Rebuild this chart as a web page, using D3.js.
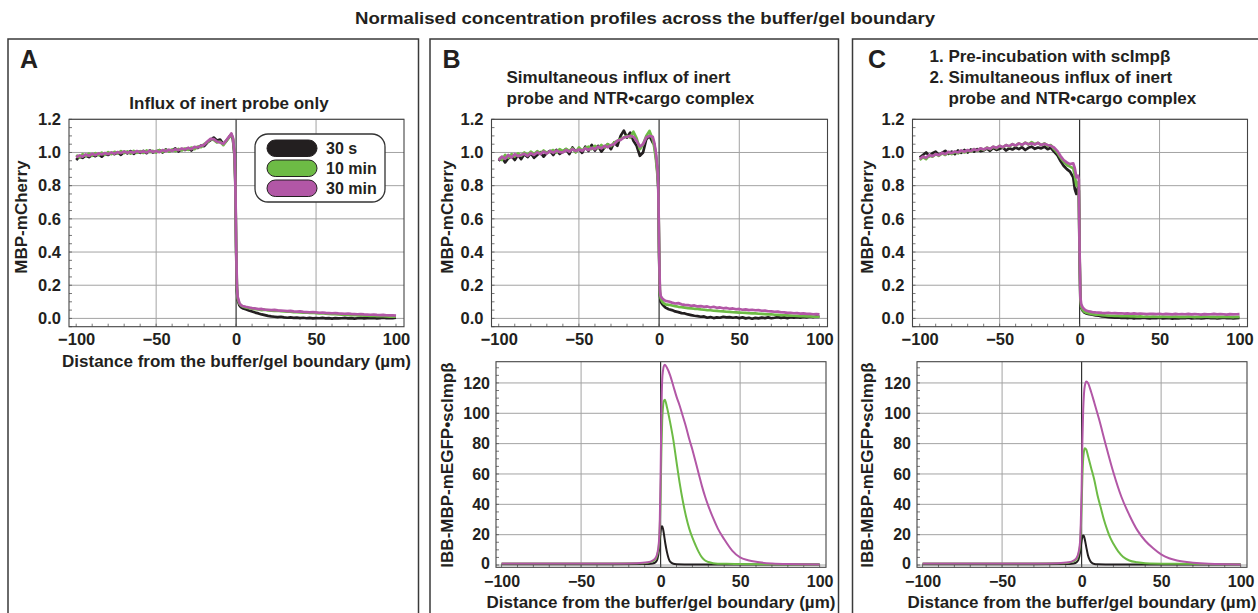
<!DOCTYPE html>
<html>
<head>
<meta charset="utf-8">
<script src="https://cdn.jsdelivr.net/npm/d3@7"></script>
<style>
  body { margin: 0; background: #fff; }
  svg { display: block; font-family: "Liberation Sans", Arial, Helvetica, sans-serif; font-weight: bold; }
</style>
</head>
<body>
<div id="chart"></div>
<script>
// ---- data ----
var seriesNames = ['30 s', '10 min', '30 min']
var colors = ['#231f20', '#6dbb45', '#b257a6']

var xTicks = [-100, -50, 0, 50, 100]
var profTicks = [0, 0.2, 0.4, 0.6, 0.8, 1.0, 1.2]
var impTicks = [0, 20, 40, 60, 80, 100, 120]

// distance grid of the MBP-mCherry profiles (µm)
var profX = [-100, -98, -96, -94, -92, -90, -88, -86, -84, -82,
    -80, -78, -76, -74, -72, -70, -68, -66, -64, -62,
    -60, -58, -56, -54, -52, -50, -48, -46, -44, -42,
    -40, -38, -36, -34, -32, -30, -28, -26, -24, -22,
    -20, -18, -16, -14, -12, -10, -8, -6, -4,
    -3, -2, -1, -0.5, 0, 0.5, 1, 2, 3, 4,
    6, 8, 10, 12, 14, 16, 18, 20, 22, 24,
    26, 28, 30, 32, 34, 36, 38, 40, 42, 44,
    46, 48, 50, 52, 54, 56, 58, 60, 62, 64,
    66, 68, 70, 72, 74, 76, 78, 80, 82, 84,
    86, 88, 90, 92, 94, 96, 98, 100]

// panel A, MBP-mCherry
var aBlack = [0.955, 0.975, 0.968, 0.982, 0.972, 0.985, 0.978, 0.99, 0.975, 0.992,
    0.985, 0.998, 0.99, 1.0, 0.986, 1.004, 0.995, 1.008, 0.992, 1.006,
    0.998, 1.01, 0.996, 1.012, 1.0, 1.006, 1.014, 1.0, 1.018, 1.008,
    1.012, 1.024, 1.006, 1.02, 1.015, 1.026, 1.012, 1.03, 1.028, 1.042,
    1.038, 1.06, 1.074, 1.09, 1.072, 1.078, 1.05, 1.072, 1.098,
    1.108, 1.08, 0.98, 0.82, 0.42, 0.17, 0.11, 0.08, 0.068, 0.062,
    0.055, 0.048, 0.042, 0.035, 0.03, 0.024, 0.02, 0.015, 0.012, 0.01,
    0.008, 0.01, 0.006, 0.004, 0.006, 0.003, 0.005, 0.002, 0.004, 0.001,
    0.003, 0.0, 0.002, 0.001, 0.003, 0.0, 0.002, -0.001, 0.002, 0.0,
    0.001, 0.003, 0.0, 0.002, -0.001, 0.001, 0.003, 0.0, 0.002, 0.001,
    0.003, 0.0, 0.002, 0.004, 0.001, 0.003, 0.002, 0.004]
var aGreen = [0.985, 0.97, 0.99, 0.978, 0.993, 0.98, 0.996, 0.984, 0.999, 0.986,
    1.002, 0.99, 1.004, 0.994, 1.008, 0.996, 1.006, 0.993, 1.01, 0.998,
    1.008, 0.997, 1.012, 1.002, 1.01, 0.999, 1.014, 1.004, 1.016, 1.006,
    1.018, 1.008, 1.022, 1.012, 1.024, 1.016, 1.03, 1.02, 1.036, 1.032,
    1.05, 1.062, 1.08, 1.076, 1.06, 1.066, 1.044, 1.07, 1.095,
    1.11, 1.085, 0.99, 0.84, 0.45, 0.19, 0.12, 0.09, 0.078, 0.072,
    0.066, 0.062, 0.058, 0.056, 0.054, 0.05, 0.052, 0.048, 0.047, 0.045,
    0.046, 0.043, 0.042, 0.04, 0.041, 0.038, 0.037, 0.036, 0.035, 0.036,
    0.033, 0.034, 0.031, 0.03, 0.031, 0.028, 0.027, 0.026, 0.026, 0.024,
    0.023, 0.024, 0.021, 0.02, 0.021, 0.018, 0.019, 0.017, 0.016, 0.015,
    0.016, 0.014, 0.013, 0.014, 0.012, 0.011, 0.012, 0.01]
var aMagenta = [0.97, 0.982, 0.975, 0.988, 0.98, 0.992, 0.984, 0.995, 0.988, 0.997,
    0.99, 1.0, 0.993, 1.003, 0.996, 1.006, 0.998, 1.004, 0.999, 1.009,
    1.002, 1.007, 1.0, 1.011, 1.004, 1.009, 1.002, 1.014, 1.008, 1.017,
    1.01, 1.02, 1.014, 1.024, 1.018, 1.028, 1.02, 1.034, 1.03, 1.04,
    1.046, 1.066, 1.082, 1.08, 1.066, 1.06, 1.052, 1.075, 1.1,
    1.115, 1.09, 1.0, 0.85, 0.47, 0.2, 0.13, 0.095, 0.08, 0.075,
    0.07, 0.066, 0.062, 0.06, 0.056, 0.057, 0.053, 0.052, 0.05, 0.051,
    0.048, 0.047, 0.046, 0.044, 0.045, 0.042, 0.041, 0.042, 0.039, 0.038,
    0.037, 0.038, 0.036, 0.034, 0.035, 0.033, 0.032, 0.031, 0.032, 0.03,
    0.029, 0.028, 0.029, 0.027, 0.026, 0.025, 0.026, 0.024, 0.023, 0.022,
    0.023, 0.021, 0.02, 0.021, 0.019, 0.018, 0.019, 0.017]

// panel B, MBP-mCherry
var bBlack = [0.95, 0.972, 0.94, 0.965, 0.978, 0.955, 0.985, 0.96, 0.99, 0.972,
    0.995, 0.968, 0.985, 1.002, 0.975, 0.998, 1.01, 0.985, 1.015, 0.992,
    1.005, 1.02, 0.99, 1.03, 1.005, 1.022, 0.998, 1.035, 1.01, 1.045,
    1.012, 1.04, 1.005, 1.03, 1.05, 1.02, 1.06, 1.04, 1.1, 1.132,
    1.09, 1.12, 1.07, 1.04, 0.98, 1.0, 1.08, 1.1, 1.06,
    1.05, 0.98, 0.88, 0.78, 0.38, 0.14, 0.1, 0.085, 0.075, 0.065,
    0.055, 0.05, 0.042, 0.038, 0.032, 0.03, 0.024, 0.02, 0.016, 0.014,
    0.01, 0.012, 0.004, 0.008, 0.002, 0.006, 0.004, 0.01, 0.006, 0.008,
    0.004, 0.007, 0.002, 0.006, 0.0, 0.004, -0.002, 0.003, 0.0, 0.005,
    0.002, 0.006, 0.001, 0.004, 0.008, 0.003, 0.006, 0.002, 0.007, 0.004,
    0.008, 0.005, 0.009, 0.006, 0.01, 0.007, 0.011, 0.009]
var bGreen = [0.97, 0.955, 0.985, 0.968, 0.99, 0.975, 0.995, 0.98, 1.0, 0.985,
    1.005, 0.99, 1.008, 0.995, 1.012, 0.998, 1.005, 1.015, 1.0, 1.02,
    1.008, 1.022, 1.01, 1.025, 1.0, 1.03, 1.012, 1.028, 1.035, 1.02,
    1.04, 1.025, 1.045, 1.03, 1.05, 1.038, 1.06, 1.07, 1.082, 1.09,
    1.1, 1.09, 1.125, 1.085, 1.02, 1.05, 1.1, 1.13, 1.08,
    1.03, 0.96, 0.86, 0.8, 0.4, 0.15, 0.12, 0.1, 0.09, 0.085,
    0.082, 0.078, 0.074, 0.07, 0.068, 0.065, 0.062, 0.06, 0.058, 0.057,
    0.054, 0.052, 0.05, 0.049, 0.046, 0.045, 0.043, 0.042, 0.04, 0.039,
    0.037, 0.036, 0.035, 0.034, 0.033, 0.031, 0.03, 0.03, 0.028, 0.027,
    0.026, 0.024, 0.025, 0.022, 0.021, 0.02, 0.019, 0.018, 0.017, 0.016,
    0.015, 0.014, 0.013, 0.012, 0.012, 0.011, 0.01, 0.01]
var bMagenta = [0.955, 0.975, 0.962, 0.985, 0.97, 0.99, 0.978, 0.985, 0.992, 0.98,
    0.996, 0.985, 1.0, 0.99, 1.005, 0.994, 1.008, 0.998, 1.012, 1.002,
    1.0, 1.015, 1.005, 1.02, 1.008, 1.018, 1.01, 1.025, 1.015, 1.028,
    1.02, 1.035, 1.025, 1.04, 1.032, 1.045, 1.05, 1.072, 1.075, 1.09,
    1.095, 1.1, 1.095, 1.07, 1.035, 1.05, 1.09, 1.1, 1.095,
    1.06, 1.0, 0.9, 0.8, 0.42, 0.17, 0.135, 0.12, 0.112, 0.106,
    0.102, 0.095, 0.09, 0.092, 0.085, 0.082, 0.08, 0.076, 0.078, 0.072,
    0.074, 0.07, 0.072, 0.066, 0.07, 0.064, 0.066, 0.061, 0.063, 0.058,
    0.06, 0.055, 0.057, 0.052, 0.054, 0.05, 0.052, 0.049, 0.05, 0.046,
    0.047, 0.043, 0.042, 0.04, 0.041, 0.037, 0.036, 0.033, 0.034, 0.031,
    0.032, 0.029, 0.03, 0.027, 0.028, 0.025, 0.026, 0.024]

// panel C, MBP-mCherry
var cBlack = [0.97, 0.985, 1.0, 0.978, 0.995, 1.005, 0.985, 0.998, 1.01, 0.992,
    1.005, 0.99, 1.012, 0.998, 1.015, 1.0, 1.018, 1.005, 1.02, 1.008,
    1.012, 1.025, 1.01, 1.028, 1.015, 1.022, 1.03, 1.012, 1.025, 1.018,
    1.03, 1.02, 1.032, 1.015, 1.028, 1.035, 1.022, 1.03, 1.025, 1.035,
    1.02, 1.028, 1.005, 0.985, 0.95, 0.92, 0.9, 0.885, 0.85,
    0.78, 0.75, 0.79, 0.77, 0.36, 0.1, 0.065, 0.045, 0.035, 0.03,
    0.025, 0.022, 0.018, 0.016, 0.012, 0.01, 0.008, 0.006, 0.004, 0.006,
    0.003, 0.005, 0.002, 0.004, 0.0, 0.003, 0.001, 0.004, 0.002, 0.0,
    0.003, 0.001, 0.004, 0.0, 0.002, 0.003, -0.001, 0.002, 0.0, 0.003,
    0.001, 0.004, 0.0, 0.002, 0.003, 0.0, 0.002, 0.004, 0.001, 0.003,
    0.0, 0.002, 0.004, 0.001, 0.003, 0.0, 0.002, 0.003]
var cGreen = [0.955, 0.972, 0.96, 0.982, 0.975, 0.99, 0.98, 0.995, 0.985, 1.0,
    0.99, 1.004, 0.995, 1.01, 1.0, 1.012, 1.005, 1.02, 1.01, 1.024,
    1.015, 1.03, 1.02, 1.034, 1.025, 1.04, 1.03, 1.045, 1.035, 1.05,
    1.04, 1.055, 1.045, 1.06, 1.048, 1.062, 1.05, 1.058, 1.045, 1.055,
    1.04, 1.045, 1.02, 1.0, 0.97, 0.945, 0.925, 0.915, 0.905,
    0.86, 0.8, 0.82, 0.8, 0.38, 0.11, 0.07, 0.05, 0.04, 0.035,
    0.03, 0.026, 0.023, 0.022, 0.02, 0.018, 0.017, 0.016, 0.015, 0.015,
    0.014, 0.013, 0.013, 0.012, 0.012, 0.011, 0.012, 0.01, 0.011, 0.01,
    0.011, 0.01, 0.009, 0.011, 0.01, 0.009, 0.01, 0.011, 0.009, 0.01,
    0.009, 0.011, 0.01, 0.008, 0.01, 0.009, 0.011, 0.01, 0.009, 0.01,
    0.008, 0.01, 0.009, 0.011, 0.009, 0.008, 0.01, 0.009]
var cMagenta = [0.962, 0.975, 0.968, 0.985, 0.978, 0.99, 0.984, 0.998, 0.99, 1.004,
    0.996, 1.006, 1.0, 1.012, 1.004, 1.015, 1.008, 1.02, 1.012, 1.025,
    1.018, 1.028, 1.022, 1.035, 1.028, 1.04, 1.032, 1.045, 1.038, 1.05,
    1.042, 1.055, 1.046, 1.058, 1.05, 1.055, 1.048, 1.058, 1.045, 1.052,
    1.045, 1.04, 1.03, 1.01, 0.98, 0.955, 0.94, 0.93, 0.935,
    0.905, 0.85, 0.86, 0.84, 0.4, 0.13, 0.085, 0.065, 0.055, 0.048,
    0.042, 0.038, 0.036, 0.035, 0.033, 0.032, 0.034, 0.031, 0.032, 0.03,
    0.031, 0.029, 0.03, 0.028, 0.03, 0.027, 0.029, 0.028, 0.026, 0.028,
    0.027, 0.026, 0.028, 0.025, 0.027, 0.026, 0.024, 0.027, 0.025, 0.026,
    0.025, 0.027, 0.024, 0.026, 0.025, 0.023, 0.026, 0.024, 0.025, 0.027,
    0.024, 0.026, 0.025, 0.023, 0.026, 0.024, 0.025, 0.026]

// panel B, IBB-MBP-mEGFP•scImpβ
var bImpBlackX = [-100, -30, -10, -5, -3, -2, -1, -0.5, 0, 0.5, 1, 1.5, 2, 3, 4, 5, 6, 8, 10, 15, 30, 100]
var bImpBlack = [0.5, 0.5, 0.6, 1, 2, 4, 10, 16, 22, 25, 25.5, 24, 21, 14, 8.5, 4.5, 2.2, 0.8, 0.5, 0.4, 0.4, 0.4]
var bImpGreenX = [-100, -60, -30, -15, -8, -5, -3, -2, -1, -0.5, 0, 0.5, 1, 1.5, 2, 2.7, 4, 6, 8, 10,
    12, 14, 16, 18, 20, 22, 24, 26, 28, 30, 33, 36, 40, 50, 70, 100]
var bImpGreen = [1, 1, 1, 1.1, 1.5, 2.5, 4, 7, 14, 25, 45, 75, 95, 104, 108, 109, 104, 94, 82.5, 68,
    54, 42, 32, 24, 18, 13, 8.5, 5, 3, 2, 1.2, 0.9, 0.8, 0.6, 0.5, 0.4]
var bImpMagentaX = [-100, -60, -30, -15, -8, -5, -3, -2, -1, -0.5, 0, 0.5, 1, 1.5, 2, 2.7, 4, 6, 8, 10,
    12, 14, 16, 18, 20, 22, 24, 26, 28, 30, 33, 36, 40, 45, 50, 55, 60, 70, 80, 100]
var bImpMagenta = [1, 1, 1, 1.2, 1.8, 3, 5, 8, 16, 30, 60, 100, 122, 128, 131, 132, 130, 125, 118, 111,
    105, 98, 91, 83, 76, 68, 60, 52, 45, 39, 31, 24, 17, 9.5, 5, 3.2, 2.1, 1, 0.6, 0.4]

// panel C, IBB-MBP-mEGFP•scImpβ
var cImpBlackX = [-100, -30, -10, -5, -3, -2, -1, -0.5, 0, 0.5, 1, 1.5, 2, 3, 4, 5, 6, 8, 10, 15, 30, 100]
var cImpBlack = [0.5, 0.5, 0.6, 1, 2, 3.5, 8, 12, 16, 18.5, 19.5, 19, 17, 11.5, 6.5, 3.5, 1.8, 0.7, 0.5, 0.4, 0.4, 0.4]
var cImpGreenX = [-100, -60, -30, -15, -8, -5, -3, -2, -1, -0.5, 0, 0.5, 1, 1.5, 2, 3, 4, 6, 8, 10,
    12, 14, 16, 18, 20, 23, 26, 30, 35, 40, 60, 100]
var cImpGreen = [1, 1, 1, 1.1, 1.5, 2.5, 4, 7, 13, 22, 38, 58, 70, 75, 77, 76, 72, 64, 56, 46,
    38, 30, 23.5, 18, 14, 9, 5.5, 3, 1.8, 1.2, 0.8, 0.5]
var cImpMagentaX = [-100, -60, -30, -15, -8, -5, -3, -2, -1, -0.5, 0, 0.5, 1, 1.5, 2, 3, 4, 6, 8, 11,
    15, 20, 25, 30, 35, 40, 45, 50, 55, 60, 70, 80, 100]
var cImpMagenta = [1, 1, 1, 1.2, 1.8, 3, 5, 8, 15, 28, 50, 82, 102, 113, 118, 121, 120, 114, 107, 96,
    80, 61, 45, 33, 23, 16, 11, 7, 4.5, 3, 1.5, 0.8, 0.4]

// ---- svg ----
var width = 1258,
    height = 613

var svg = d3.select('#chart')
    .append('svg')
    .attr('width', width)
    .attr('height', height)

svg.append('text')
    .attr('x', 645)
    .attr('y', 24)
    .attr('text-anchor', 'middle')
    .attr('font-size', 17)
    .attr('textLength', 580)
    .attr('lengthAdjust', 'spacingAndGlyphs')
    .attr('fill', '#231f20')
    .text('Normalised concentration profiles across the buffer/gel boundary')

// panel frames
var boxes = [[8, 410.5, 'A', 20], [430, 408.5, 'B', 442.5], [852.5, 420, 'C', 868]]
boxes.forEach(b => {
    svg.append('rect')
        .attr('x', b[0]).attr('y', 39)
        .attr('width', b[1]).attr('height', 600)
        .attr('fill', 'none')
        .attr('stroke', '#3a3a3a')
        .attr('stroke-width', 1.5)
    svg.append('text')
        .attr('x', b[3]).attr('y', 67.5)
        .attr('font-size', 25)
        .attr('fill', '#231f20')
        .text(b[2])
})

function drawPlot(p) {
    var x = d3.scaleLinear().domain(p.xDomain).range([p.left, p.right])
    var y = d3.scaleLinear().domain(p.yDomain).range([p.bottom, p.top])
    var g = svg.append('g')

    // grid
    g.selectAll('.gy')
        .data(p.yTicks)
        .enter()
        .append('line')
        .attr('class', 'gy')
        .attr('x1', p.left).attr('x2', p.right)
        .attr('y1', d => y(d)).attr('y2', d => y(d))
        .attr('stroke', '#a3a3a3')
        .attr('stroke-width', 1)
    g.selectAll('.gx')
        .data([-50, 50])
        .enter()
        .append('line')
        .attr('class', 'gx')
        .attr('x1', d => x(d)).attr('x2', d => x(d))
        .attr('y1', p.top).attr('y2', p.bottom)
        .attr('stroke', '#a3a3a3')
        .attr('stroke-width', 1)
    g.append('line')
        .attr('x1', x(0)).attr('x2', x(0))
        .attr('y1', p.top).attr('y2', p.bottom)
        .attr('stroke', '#333')
        .attr('stroke-width', 1.2)

    // minor ticks, inside
    g.selectAll('.my')
        .data(p.yMinor)
        .enter()
        .append('line')
        .attr('class', 'my')
        .attr('x1', p.left).attr('x2', p.left + 3)
        .attr('y1', d => y(d)).attr('y2', d => y(d))
        .attr('stroke', '#555')
        .attr('stroke-width', 0.8)
    g.selectAll('.mx')
        .data(d3.range(-100, 101, 10))
        .enter()
        .append('line')
        .attr('class', 'mx')
        .attr('x1', d => x(d)).attr('x2', d => x(d))
        .attr('y1', p.bottom).attr('y2', p.bottom - 3)
        .attr('stroke', '#555')
        .attr('stroke-width', 0.8)

    // curves
    var line = d3.line()
        .x(d => x(d[0]))
        .y(d => y(d[1]))
        .curve(p.curve)
    p.series.forEach((s, i) => {
        g.append('path')
            .datum(d3.zip(s[0], s[1]))
            .attr('d', line)
            .attr('fill', 'none')
            .attr('stroke', colors[i])
            .attr('stroke-width', p.lw)
            .attr('stroke-linejoin', 'round')
    })

    g.append('rect')
        .attr('x', p.left).attr('y', p.top)
        .attr('width', p.right - p.left).attr('height', p.bottom - p.top)
        .attr('fill', 'none')
        .attr('stroke', '#444')
        .attr('stroke-width', 1.1)

    // axes
    var yaxis = g.append('g')
        .attr('transform', `translate(${p.left},0)`)
        .call(d3.axisLeft(y).tickValues(p.yTicks).tickFormat(p.yFmt).tickSize(0).tickPadding(p.yPad))
    var xaxis = g.append('g')
        .attr('transform', `translate(0,${p.bottom})`)
        .call(d3.axisBottom(x).tickValues(xTicks).tickFormat(d3.format('d')).tickSize(0).tickPadding(p.xPad))
    ;[yaxis, xaxis].forEach(a => {
        a.select('.domain').remove()
        a.selectAll('text')
            .attr('font-family', null)
            .attr('font-size', p.tickFont)
            .attr('fill', '#231f20')
        a.attr('font-family', null).attr('font-size', null)
    })
    // nudge the lowest y label clear of the x labels
    yaxis.selectAll('.tick text')
        .filter(d => d == 0)
        .attr('dy', p.zeroDy)

    // axis titles
    g.append('text')
        .attr('transform', `translate(${p.yTitleX},${p.yTitleY}) rotate(-90)`)
        .attr('text-anchor', 'middle')
        .attr('font-size', 17)
        .attr('fill', '#231f20')
        .text(p.yTitle)
    if (p.xTitle) {
        g.append('text')
            .attr('x', (p.left + p.right) / 2)
            .attr('y', p.bottom + 40.5)
            .attr('text-anchor', 'middle')
            .attr('font-size', 17)
            .attr('fill', '#231f20')
            .text(p.xTitle)
    }
}

var xTitle = 'Distance from the buffer/gel boundary (µm)'
var profMinor = d3.range(-0.05, 1.21, 0.05)
var impMinor = d3.range(0, 135, 5)

var tops = [
    {left: 69, right: 404, yTitleX: 27, series: [[profX, aBlack], [profX, aGreen], [profX, aMagenta]], xTitle: xTitle},
    {left: 491.5, right: 827.5, yTitleX: 452.5, series: [[profX, bBlack], [profX, bGreen], [profX, bMagenta]]},
    {left: 912.5, right: 1247.5, yTitleX: 873, series: [[profX, cBlack], [profX, cGreen], [profX, cMagenta]]}
]
tops.forEach(t => {
    drawPlot(Object.assign({
        xDomain: [-104.5, 105], yDomain: [-0.05, 1.2],
        top: 119.3, bottom: 326.7,
        yTicks: profTicks, yMinor: profMinor, yFmt: d3.format('.1f'), yPad: 8, xPad: 7,
        tickFont: 16.5, zeroDy: '0.32em',
        yTitle: 'MBP-mCherry', yTitleY: 217,
        curve: d3.curveLinear, lw: 2.7
    }, t))
})

var bottoms = [
    {left: 496, right: 826, yTitleX: 452.5, series: [[bImpBlackX, bImpBlack], [bImpGreenX, bImpGreen], [bImpMagentaX, bImpMagenta]]},
    {left: 917, right: 1247, yTitleX: 873, series: [[cImpBlackX, cImpBlack], [cImpGreenX, cImpGreen], [cImpMagentaX, cImpMagenta]]}
]
bottoms.forEach(t => {
    drawPlot(Object.assign({
        xDomain: [-103.5, 104], yDomain: [-1.5, 134],
        top: 361.7, bottom: 567.3,
        yTicks: impTicks, yMinor: impMinor, yFmt: d3.format('d'), yPad: 6, xPad: 8.5,
        tickFont: 16, zeroDy: '0.2em',
        yTitle: 'IBB-MBP-mEGFP•scImpβ', yTitleY: 465,
        curve: d3.curveMonotoneX, lw: 2,
        xTitle: xTitle
    }, t))
})

// panel titles
var titleA = ['Influx of inert probe only']
var titleB = ['Simultaneous influx of inert', 'probe and NTR•cargo complex']
var titleC = ['1. Pre-incubation with scImpβ', '2. Simultaneous influx of inert', 'probe and NTR•cargo complex']

svg.append('text')
    .attr('x', 229).attr('y', 108.5)
    .attr('text-anchor', 'middle')
    .attr('font-size', 17)
    .attr('fill', '#231f20')
    .text(titleA[0])
titleB.forEach((t, i) => {
    svg.append('text')
        .attr('x', 506.5).attr('y', 82.5 + i * 21)
        .attr('font-size', 17)
        .attr('fill', '#231f20')
        .text(t)
})
titleC.forEach((t, i) => {
    svg.append('text')
        .attr('x', i == 2 ? 948.5 : 929.5).attr('y', 61.5 + i * 21)
        .attr('font-size', 17)
        .attr('fill', '#231f20')
        .text(t)
})

// legend
var legend = svg.append('g')
legend.append('rect')
    .attr('x', 255).attr('y', 134)
    .attr('width', 130).attr('height', 68)
    .attr('rx', 13)
    .attr('fill', '#fff')
    .attr('stroke', '#333')
    .attr('stroke-width', 1.3)
seriesNames.forEach((n, i) => {
    legend.append('rect')
        .attr('x', 267).attr('y', 140 + i * 20)
        .attr('width', 50).attr('height', 16.5)
        .attr('rx', 8.25)
        .attr('fill', colors[i])
        .attr('stroke', '#231f20')
        .attr('stroke-width', 1)
    legend.append('text')
        .attr('x', 326).attr('y', 154 + i * 20)
        .attr('font-size', 16)
        .attr('fill', '#231f20')
        .text(n)
})
</script>
</body>
</html>
